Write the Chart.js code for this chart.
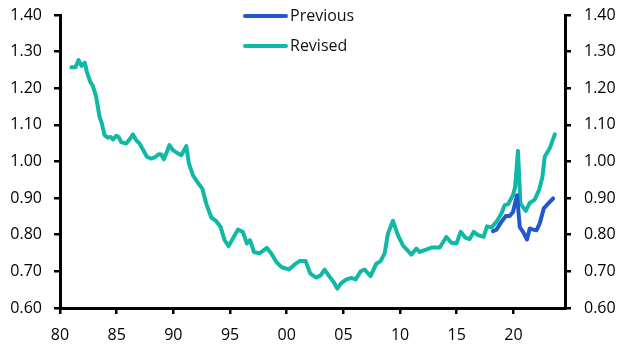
<!DOCTYPE html>
<html>
<head>
<meta charset="utf-8">
<script src="https://cdn.jsdelivr.net/npm/chart.js@4.4.1/dist/chart.umd.min.js"></script>
<style>
  html, body { margin: 0; padding: 0; background: #ffffff; }
  #wrap { width: 629px; height: 353px; position: relative; }
</style>
</head>
<body>
<div id="wrap"><canvas id="c" width="629" height="353"></canvas></div>
<script>
// ---- Data ----
const revisedX = [1981.0,1981.37,1981.63,1981.9,1982.19,1982.37,1982.66,1982.9,1983.19,1983.49,1983.69,1983.93,1984.22,1984.46,1984.66,1984.96,1985.19,1985.4,1985.84,1986.13,1986.43,1986.73,1987.02,1987.31,1987.66,1988.05,1988.34,1988.72,1988.93,1989.16,1989.43,1989.66,1989.96,1990.4,1990.7,1991.14,1991.37,1991.72,1992.16,1992.55,1992.9,1993.35,1993.79,1994.17,1994.52,1994.87,1995.25,1995.69,1996.13,1996.49,1996.75,1996.87,1997.1,1997.6,1998.25,1998.64,1999.08,1999.52,2000.1,2000.2,2000.7,2001.14,2001.67,2002.08,2002.61,2002.99,2003.34,2003.79,2004.14,2004.46,2004.81,2005.26,2005.7,2006.08,2006.52,2006.87,2007.4,2007.9,2008.28,2008.64,2008.93,2009.37,2009.81,2010.25,2010.78,2011.0,2011.44,2011.73,2012.17,2012.76,2013.5,2014.08,2014.52,2014.97,2015.35,2015.76,2016.14,2016.5,2016.87,2017.37,2017.67,2018.06,2018.5,2018.94,2019.23,2019.52,2019.96,2020.15,2020.4,2020.62,2021.09,2021.44,2021.88,2022.26,2022.56,2022.76,2023.2,2023.65];
const revisedY = [1.257,1.257,1.277,1.261,1.270,1.245,1.218,1.206,1.177,1.122,1.104,1.072,1.065,1.067,1.060,1.070,1.066,1.053,1.049,1.060,1.074,1.058,1.049,1.033,1.013,1.008,1.011,1.020,1.019,1.006,1.026,1.045,1.031,1.022,1.017,1.042,0.995,0.963,0.942,0.926,0.885,0.847,0.837,0.821,0.785,0.769,0.790,0.814,0.808,0.776,0.785,0.776,0.753,0.749,0.764,0.749,0.726,0.712,0.706,0.705,0.719,0.728,0.728,0.694,0.683,0.689,0.705,0.685,0.671,0.653,0.668,0.678,0.682,0.678,0.700,0.705,0.687,0.721,0.728,0.749,0.803,0.838,0.799,0.771,0.753,0.746,0.762,0.753,0.758,0.765,0.765,0.794,0.778,0.776,0.808,0.792,0.788,0.808,0.799,0.794,0.823,0.820,0.835,0.858,0.881,0.883,0.908,0.930,1.029,0.885,0.865,0.887,0.896,0.922,0.958,1.013,1.036,1.074];

const previousX = [2018.2,2018.5,2018.94,2019.32,2019.67,2019.96,2020.32,2020.56,2020.85,2021.2,2021.44,2021.74,2022.03,2022.32,2022.68,2023.06,2023.5];
const previousY = [0.810,0.814,0.835,0.851,0.851,0.862,0.908,0.821,0.808,0.787,0.817,0.814,0.812,0.831,0.872,0.885,0.899];

const xTickValues = [1980,1985,1990,1995,2000,2005,2010,2015,2020];
const xTickLabels = ['80','85','90','95','00','05','10','15','20'];
const yTickValues = [0.6,0.7,0.8,0.9,1.0,1.1,1.2,1.3,1.4];
const yTickLabels = ['0.60','0.70','0.80','0.90','1.00','1.10','1.20','1.30','1.40'];

const seriesNames = ['Previous','Revised'];
const seriesColors = ['#2257CE','#10B8A6'];

// ---- Build chart ----
const toPoints = (xs, ys) => xs.map((x, i) => ({ x: x, y: ys[i] }));
const FONT = { family: "'Open Sans', 'Noto Sans', sans-serif", size: 16 };

function yAxis(position, width, padding) {
  return {
    type: 'linear',
    position: position,
    min: 0.6,
    max: 1.4,
    afterBuildTicks: (s) => { s.ticks = yTickValues.map(v => ({ value: v })); },
    afterFit: (s) => { s.width = width; s.paddingTop = 0; s.paddingBottom = 0; },
    ticks: {
      color: '#000000',
      font: FONT,
      padding: padding,
      callback: (v) => { const i = yTickValues.findIndex(t => Math.abs(t - v) < 1e-6); return i >= 0 ? yTickLabels[i] : ''; }
    },
    grid: { display: true, drawOnChartArea: false, drawTicks: true, tickLength: 6, color: '#000000', lineWidth: 2.5 },
    border: { display: true, color: '#000000', width: 3 }
  };
}

const legendPlugin = {
  id: 'vlegend',
  afterDraw(chart) {
    const ctx = chart.ctx;
    const rows = [16, 46];
    ctx.save();
    chart.data.datasets.forEach((ds, i) => {
      const y = rows[i];
      ctx.strokeStyle = ds.borderColor;
      ctx.lineWidth = 4;
      ctx.lineCap = 'round';
      ctx.beginPath();
      ctx.moveTo(245, y);
      ctx.lineTo(286, y);
      ctx.stroke();
      ctx.fillStyle = '#111111';
      ctx.font = FONT.size + 'px ' + FONT.family;
      ctx.textBaseline = 'middle';
      ctx.textAlign = 'left';
      ctx.fillText(ds.label, 290, y);
    });
    ctx.restore();
  }
};

new Chart(document.getElementById('c'), {
  type: 'line',
  data: {
    datasets: [
      { label: seriesNames[0], data: toPoints(previousX, previousY), borderColor: seriesColors[0], yAxisID: 'y' },
      { label: seriesNames[1], data: toPoints(revisedX, revisedY), borderColor: seriesColors[1], yAxisID: 'y' }
    ]
  },
  options: {
    responsive: false,
    animation: false,
    devicePixelRatio: 1,
    layout: { padding: { top: 15, left: 0, right: 0, bottom: 0 } },
    elements: {
      line: { borderWidth: 4, tension: 0, borderJoinStyle: 'round', borderCapStyle: 'round', fill: false },
      point: { radius: 0, hoverRadius: 0 }
    },
    plugins: { legend: { display: false }, tooltip: { enabled: false } },
    scales: {
      x: {
        type: 'linear',
        min: 1980,
        max: 2024.55,
        afterBuildTicks: (s) => { s.ticks = xTickValues.map(v => ({ value: v })); },
        afterFit: (s) => { s.height = 45; s.paddingLeft = 0; s.paddingRight = 0; },
        ticks: {
          color: '#000000',
          font: FONT,
          padding: 12,
          maxRotation: 0,
          callback: (v) => { const i = xTickValues.indexOf(v); return i >= 0 ? xTickLabels[i] : ''; }
        },
        grid: { display: true, drawOnChartArea: false, drawTicks: true, tickLength: 6, color: '#000000', lineWidth: 2.5 },
        border: { display: true, color: '#000000', width: 3 }
      },
      y: yAxis('left', 60, 12),
      y2: yAxis('right', 64, 13)
    }
  },
  plugins: [legendPlugin]
});
</script>
</body>
</html>
